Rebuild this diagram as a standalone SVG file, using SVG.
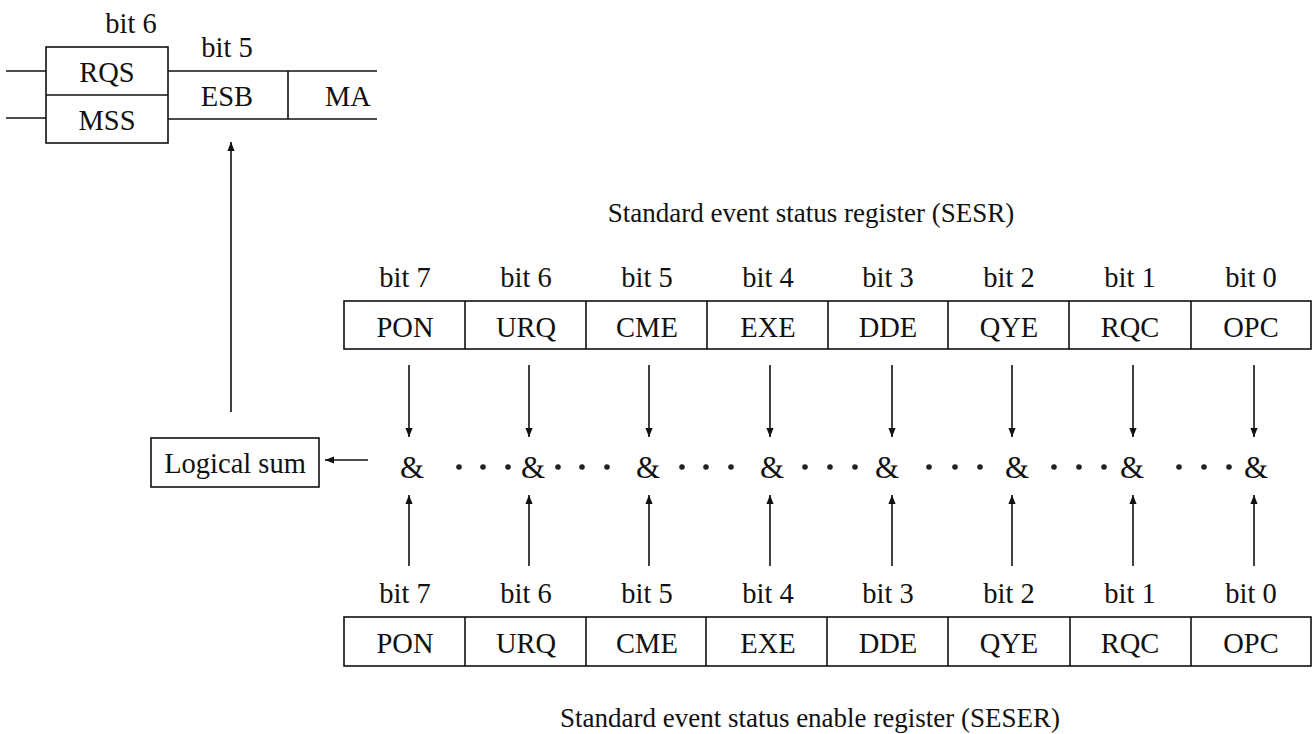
<svg xmlns="http://www.w3.org/2000/svg" width="1314" height="734" viewBox="0 0 1314 734">
<defs>
<style>
text{font-family:"Liberation Serif","Times New Roman",serif;font-size:28.5px;fill:#111;text-anchor:middle}
.amp{font-size:31px}
.cap{font-size:27px}
.ln{stroke:#111;stroke-width:1.6;fill:none}
.box{stroke:#111;stroke-width:1.6;fill:#fff}
.dot{fill:#222}
</style>
<marker id="ah" viewBox="0 0 10 10" refX="10" refY="5" markerWidth="10" markerHeight="9" markerUnits="userSpaceOnUse" orient="auto">
<path d="M0,1 L10,5 L0,9 Z" fill="#111"/>
</marker>
</defs>
<rect width="1314" height="734" fill="#fff"/>

<g id="stb">
<line class="ln" x1="6" y1="71" x2="46" y2="71"/>
<line class="ln" x1="6" y1="118" x2="46" y2="118"/>
<rect class="box" x="46" y="47" width="122" height="96"/>
<line class="ln" x1="46" y1="95" x2="168" y2="95"/>
<text x="131" y="33">bit 6</text>
<text x="107" y="82">RQS</text>
<text x="107" y="130">MSS</text>
<line class="ln" x1="168" y1="71" x2="377" y2="71"/>
<line class="ln" x1="168" y1="119" x2="377" y2="119"/>
<line class="ln" x1="288" y1="71" x2="288" y2="119"/>
<text x="227" y="57">bit 5</text>
<text x="227" y="106">ESB</text>
<text x="348" y="106">MA</text>
</g>

<g id="sesr">
<text class="cap" x="811" y="222">Standard event status register (SESR)</text>
<rect class="box" x="344" y="301" width="967" height="48"/>
<g class="ln">
<line x1="465" y1="301" x2="465" y2="349"/><line x1="586" y1="301" x2="586" y2="349"/>
<line x1="707" y1="301" x2="707" y2="349"/><line x1="828" y1="301" x2="828" y2="349"/>
<line x1="948" y1="301" x2="948" y2="349"/><line x1="1069" y1="301" x2="1069" y2="349"/>
<line x1="1191" y1="301" x2="1191" y2="349"/>
</g>
<text x="405" y="287">bit 7</text><text x="526" y="287">bit 6</text><text x="647" y="287">bit 5</text><text x="768" y="287">bit 4</text>
<text x="888" y="287">bit 3</text><text x="1009" y="287">bit 2</text><text x="1130" y="287">bit 1</text><text x="1251" y="287">bit 0</text>
<text x="405" y="337">PON</text><text x="526" y="337">URQ</text><text x="647" y="337">CME</text><text x="768" y="337">EXE</text>
<text x="888" y="337">DDE</text><text x="1009" y="337">QYE</text><text x="1130" y="337">RQC</text><text x="1251" y="337">OPC</text>
</g>

<g id="seser">
<text class="cap" x="810" y="727">Standard event status enable register (SESER)</text>
<rect class="box" x="344" y="617" width="967" height="49"/>
<g class="ln">
<line x1="465" y1="617" x2="465" y2="666"/><line x1="586" y1="617" x2="586" y2="666"/>
<line x1="706" y1="617" x2="706" y2="666"/><line x1="827" y1="617" x2="827" y2="666"/>
<line x1="948" y1="617" x2="948" y2="666"/><line x1="1070" y1="617" x2="1070" y2="666"/>
<line x1="1191" y1="617" x2="1191" y2="666"/>
</g>
<text x="405" y="603">bit 7</text><text x="526" y="603">bit 6</text><text x="647" y="603">bit 5</text><text x="768" y="603">bit 4</text>
<text x="888" y="603">bit 3</text><text x="1009" y="603">bit 2</text><text x="1130" y="603">bit 1</text><text x="1251" y="603">bit 0</text>
<text x="405" y="653">PON</text><text x="526" y="653">URQ</text><text x="647" y="653">CME</text><text x="768" y="653">EXE</text>
<text x="888" y="653">DDE</text><text x="1009" y="653">QYE</text><text x="1130" y="653">RQC</text><text x="1251" y="653">OPC</text>
</g>

<g id="and">
<text class="amp" x="412" y="478">&amp;</text><text class="amp" x="533" y="478">&amp;</text><text class="amp" x="648" y="478">&amp;</text><text class="amp" x="772" y="478">&amp;</text>
<text class="amp" x="887" y="478">&amp;</text><text class="amp" x="1017" y="478">&amp;</text><text class="amp" x="1132" y="478">&amp;</text><text class="amp" x="1256" y="478">&amp;</text>
<g class="dot">
<circle cx="459" cy="467" r="2.8"/><circle cx="483" cy="467" r="2.8"/><circle cx="508" cy="467" r="2.8"/>
<circle cx="558" cy="467" r="2.8"/><circle cx="582" cy="467" r="2.8"/><circle cx="607" cy="467" r="2.8"/>
<circle cx="682" cy="467" r="2.8"/><circle cx="706" cy="467" r="2.8"/><circle cx="731" cy="467" r="2.8"/>
<circle cx="805" cy="467" r="2.8"/><circle cx="830" cy="467" r="2.8"/><circle cx="855" cy="467" r="2.8"/>
<circle cx="929" cy="467" r="2.8"/><circle cx="955" cy="467" r="2.8"/><circle cx="980" cy="467" r="2.8"/>
<circle cx="1054" cy="467" r="2.8"/><circle cx="1079" cy="467" r="2.8"/><circle cx="1104" cy="467" r="2.8"/>
<circle cx="1179" cy="467" r="2.8"/><circle cx="1204" cy="467" r="2.8"/><circle cx="1229" cy="467" r="2.8"/>
</g>
</g>

<g id="logical-sum">
<rect class="box" x="151" y="438" width="168" height="49"/>
<text x="235" y="473">Logical sum</text>
</g>

<g id="connectors" class="ln">
<line x1="231" y1="412" x2="231" y2="142" marker-end="url(#ah)"/>
<line x1="368" y1="460" x2="325" y2="460" marker-end="url(#ah)"/>
<line x1="409" y1="365" x2="409" y2="437" marker-end="url(#ah)"/>
<line x1="529" y1="365" x2="529" y2="437" marker-end="url(#ah)"/>
<line x1="649" y1="365" x2="649" y2="437" marker-end="url(#ah)"/>
<line x1="770" y1="365" x2="770" y2="437" marker-end="url(#ah)"/>
<line x1="892" y1="365" x2="892" y2="437" marker-end="url(#ah)"/>
<line x1="1012" y1="365" x2="1012" y2="437" marker-end="url(#ah)"/>
<line x1="1133" y1="365" x2="1133" y2="437" marker-end="url(#ah)"/>
<line x1="1254" y1="365" x2="1254" y2="437" marker-end="url(#ah)"/>
<line x1="409" y1="566" x2="409" y2="495" marker-end="url(#ah)"/>
<line x1="529" y1="566" x2="529" y2="495" marker-end="url(#ah)"/>
<line x1="649" y1="566" x2="649" y2="495" marker-end="url(#ah)"/>
<line x1="770" y1="566" x2="770" y2="495" marker-end="url(#ah)"/>
<line x1="892" y1="566" x2="892" y2="495" marker-end="url(#ah)"/>
<line x1="1012" y1="566" x2="1012" y2="495" marker-end="url(#ah)"/>
<line x1="1133" y1="566" x2="1133" y2="495" marker-end="url(#ah)"/>
<line x1="1254" y1="566" x2="1254" y2="495" marker-end="url(#ah)"/>
</g>
</svg>
